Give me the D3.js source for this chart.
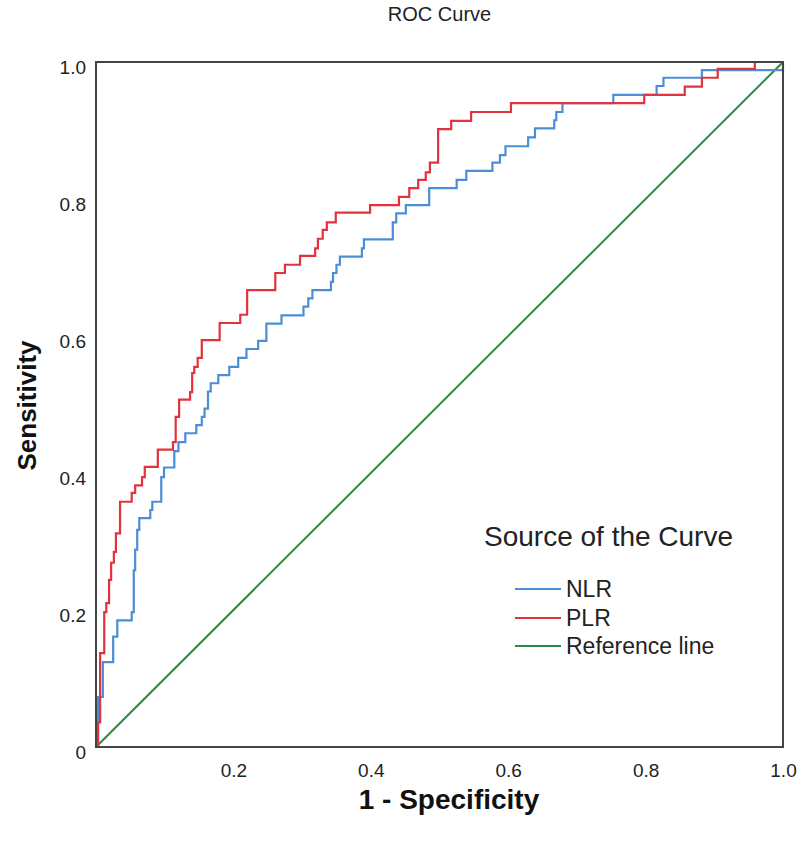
<!DOCTYPE html>
<html>
<head>
<meta charset="utf-8">
<script src="https://cdn.jsdelivr.net/npm/d3@7"></script>
<style>
  html, body { margin: 0; padding: 0; background: #fff; }
  svg { display: block; font-family: "Liberation Sans", Arial, Helvetica, sans-serif; }
</style>
</head>
<body>
<svg id="chart" width="800" height="846"></svg>
<script>
// ---- Data ----
const seriesNames = ["NLR", "PLR", "Reference line"];

// NLR ROC points: [1 - specificity, sensitivity]
const nlrFpr = [0, 0.003, 0.010, 0.025, 0.031, 0.052, 0.055, 0.057, 0.060, 0.063, 0.079, 0.082, 0.095, 0.099,
  0.114, 0.120, 0.130, 0.146, 0.154, 0.158, 0.163, 0.167, 0.178, 0.194, 0.207, 0.219, 0.236, 0.248, 0.270,
  0.302, 0.309, 0.315, 0.342, 0.345, 0.350, 0.355, 0.387, 0.390, 0.432, 0.437, 0.451, 0.485, 0.525, 0.539,
  0.577, 0.588, 0.596, 0.629, 0.639, 0.667, 0.670, 0.679, 0.753, 0.816, 0.826, 0.882, 1.0];
const nlrTpr = [0, 0.073, 0.124, 0.161, 0.185, 0.197, 0.258, 0.288, 0.317, 0.334, 0.346, 0.358, 0.394, 0.408,
  0.432, 0.445, 0.458, 0.470, 0.482, 0.494, 0.519, 0.531, 0.543, 0.555, 0.568, 0.581, 0.593, 0.618, 0.630,
  0.643, 0.655, 0.667, 0.679, 0.692, 0.704, 0.716, 0.728, 0.741, 0.766, 0.779, 0.791, 0.816, 0.828, 0.841,
  0.853, 0.864, 0.877, 0.890, 0.903, 0.915, 0.927, 0.940, 0.952, 0.965, 0.977, 0.988, 1.0];

// PLR ROC points
const plrFpr = [0, 0.003, 0.006, 0.012, 0.015, 0.019, 0.022, 0.026, 0.029, 0.035, 0.052, 0.057, 0.067, 0.071,
  0.090, 0.112, 0.116, 0.121, 0.137, 0.140, 0.143, 0.148, 0.154, 0.180, 0.210, 0.220, 0.261, 0.275, 0.297,
  0.319, 0.323, 0.330, 0.336, 0.349, 0.399, 0.441, 0.456, 0.469, 0.480, 0.486, 0.498, 0.517, 0.546, 0.604,
  0.798, 0.857, 0.882, 0.905, 0.959, 1.0];
const plrTpr = [0, 0.036, 0.137, 0.197, 0.210, 0.244, 0.269, 0.285, 0.312, 0.358, 0.371, 0.382, 0.394, 0.409,
  0.434, 0.445, 0.482, 0.507, 0.518, 0.546, 0.555, 0.568, 0.594, 0.619, 0.631, 0.667, 0.692, 0.704, 0.717,
  0.728, 0.742, 0.755, 0.766, 0.780, 0.791, 0.803, 0.816, 0.828, 0.839, 0.853, 0.902, 0.914, 0.927, 0.940,
  0.952, 0.964, 0.977, 0.990, 1.0, 1.0];

// Reference line
const refFpr = [0, 1];
const refTpr = [0, 1];

const xTicks = [0.2, 0.4, 0.6, 0.8, 1.0];
const yTicks = [0, 0.2, 0.4, 0.6, 0.8, 1.0];

const titleText = "ROC Curve";
const xLabel = "1 - Specificity";
const yLabel = "Sensitivity";
const legendTitle = "Source of the Curve";

// ---- Layout ----
const mLeft = 96, mRight = 783, mTop = 62, mBottom = 747;
const colors = { "NLR": "#4a8fd6", "PLR": "#e2323d", "Reference line": "#2b8a3b" };

const svg = d3.select("#chart");
const x = d3.scaleLinear().domain([0, 1]).range([mLeft, mRight]);
const y = d3.scaleLinear().domain([0, 1]).range([mBottom, mTop]);

const fmt = d => d === 0 ? "0" : d3.format(".1f")(d);

// Y axis labels
const yAxis = svg.append("g")
  .attr("transform", `translate(${mLeft},0)`)
  .call(d3.axisLeft(y).tickValues(yTicks).tickFormat(fmt).tickSize(0).tickPadding(10));
yAxis.select(".domain").remove();
yAxis.selectAll("text")
  .attr("dy", "11px")
  .style("font-size", "19px")
  .style("font-family", "'Liberation Sans', Arial, sans-serif")
  .attr("fill", "#222");

// X axis labels
const xAxis = svg.append("g")
  .attr("transform", `translate(0,${mBottom})`)
  .call(d3.axisBottom(x).tickValues(xTicks).tickFormat(fmt).tickSize(0));
xAxis.select(".domain").remove();
xAxis.selectAll("text")
  .attr("y", 30).attr("dy", 0)
  .style("font-size", "19px")
  .style("font-family", "'Liberation Sans', Arial, sans-serif")
  .attr("fill", "#222");

// Curves
const line = d3.line().x(d => x(d[0])).y(d => y(d[1]));
const stepLine = d3.line().x(d => x(d[0])).y(d => y(d[1])).curve(d3.curveStepAfter);

svg.append("path")
  .datum(d3.zip(refFpr, refTpr))
  .attr("d", line)
  .attr("fill", "none")
  .attr("stroke", colors["Reference line"])
  .attr("stroke-width", 2);

svg.append("path")
  .datum(d3.zip(nlrFpr, nlrTpr))
  .attr("d", stepLine)
  .attr("fill", "none")
  .attr("stroke", colors["NLR"])
  .attr("stroke-width", 2.2);

svg.append("path")
  .datum(d3.zip(plrFpr, plrTpr))
  .attr("d", stepLine)
  .attr("fill", "none")
  .attr("stroke", colors["PLR"])
  .attr("stroke-width", 2.2);

// Frame
svg.append("rect")
  .attr("x", x(0)).attr("y", y(1))
  .attr("width", x(1) - x(0)).attr("height", y(0) - y(1))
  .attr("fill", "none")
  .attr("stroke", "#444")
  .attr("stroke-width", 2);

// Title
svg.append("text")
  .attr("x", (mLeft + mRight) / 2).attr("y", 21)
  .attr("text-anchor", "middle")
  .style("font-size", "20px")
  .attr("fill", "#222")
  .text(titleText);

// Axis titles
svg.append("text")
  .attr("x", 449).attr("y", 809)
  .attr("text-anchor", "middle")
  .style("font-size", "28px").style("font-weight", "bold")
  .attr("fill", "#111")
  .text(xLabel);

svg.append("text")
  .attr("transform", `translate(36,${(mTop + mBottom) / 2 + 1}) rotate(-90)`)
  .attr("text-anchor", "middle")
  .style("font-size", "26px").style("font-weight", "bold")
  .attr("fill", "#111")
  .text(yLabel);

// Legend
const lg = svg.append("g");
lg.append("text")
  .attr("x", 484).attr("y", 546)
  .style("font-size", "28px")
  .attr("fill", "#222")
  .text(legendTitle);

const legendY = [589, 618, 646];
seriesNames.forEach((name, i) => {
  lg.append("line")
    .attr("x1", 515).attr("x2", 561)
    .attr("y1", legendY[i]).attr("y2", legendY[i])
    .attr("stroke", colors[name]).attr("stroke-width", 2);
  lg.append("text")
    .attr("x", 566).attr("y", legendY[i] + 8)
    .style("font-size", "23px")
    .attr("fill", "#222")
    .text(name);
});
</script>
</body>
</html>
